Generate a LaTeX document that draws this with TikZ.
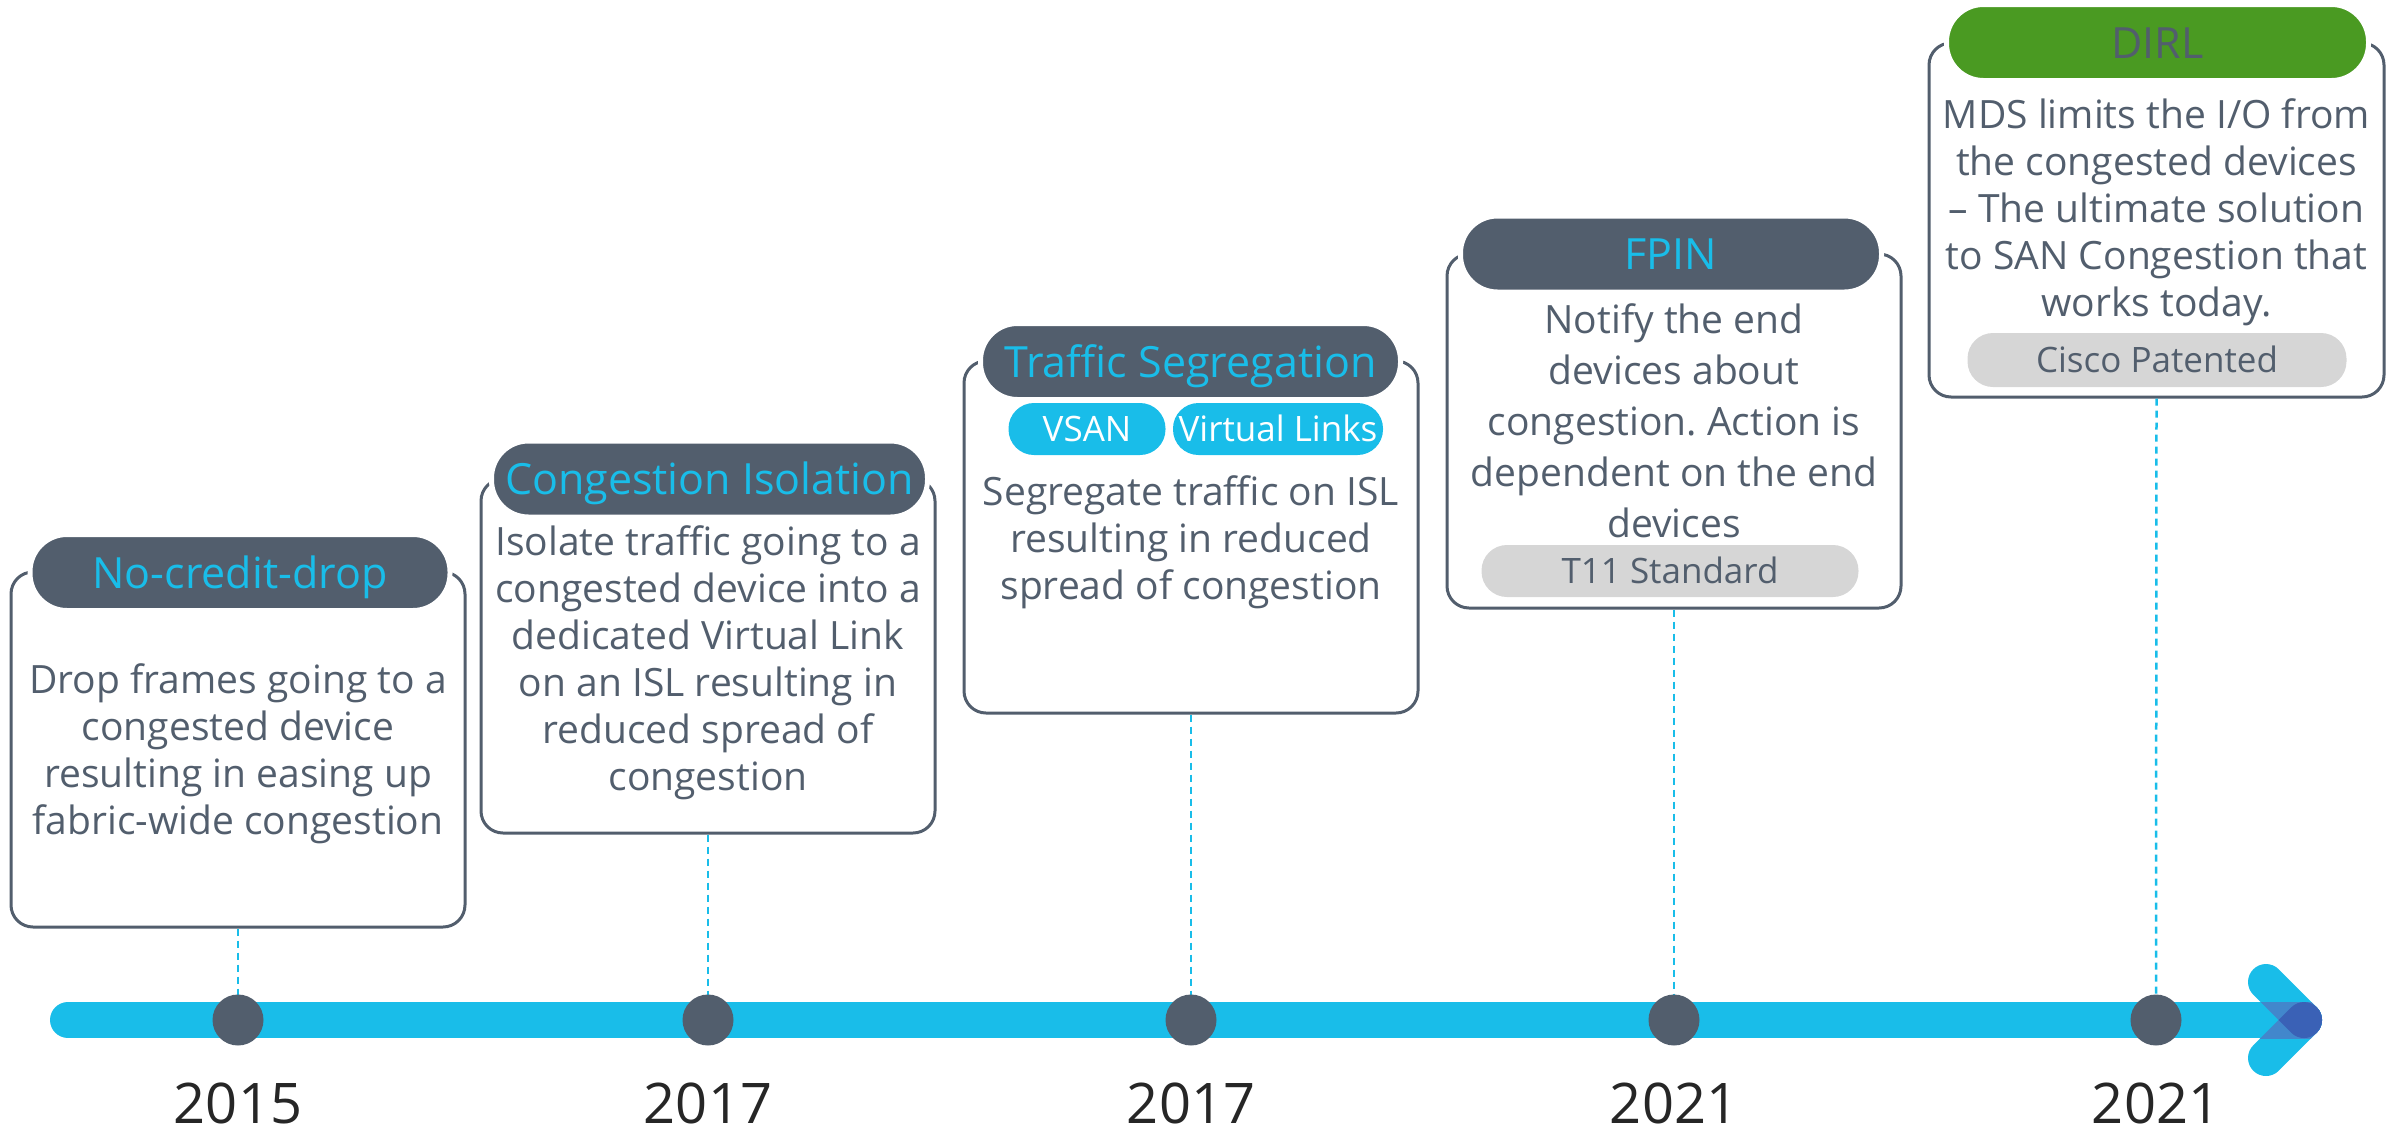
\documentclass[tikz,border=0pt]{standalone}
\usepackage{fontspec}
\setmainfont{Open Sans}
\frenchspacing
\definecolor{slate}{HTML}{525E6D}
\definecolor{cyanc}{HTML}{19BDE9}
\definecolor{tagc}{HTML}{D6D6D6}
\definecolor{greenc}{HTML}{4A9A22}
\definecolor{yearc}{HTML}{262626}
\definecolor{medc}{HTML}{4287CC}
\definecolor{darkc}{HTML}{3A61B6}
\newcommand{\mylines}[1]{\begin{tabular}[t]{@{}c@{}}#1\end{tabular}}
\begin{document}
\begin{tikzpicture}[x=1pt,y=-1pt,
  boxs/.style={draw=slate, line width=3pt, rounded corners=22pt, minimum width=454pt, inner sep=0pt},
  pill/.style={fill=slate, draw=white, line width=5pt, rounded corners=37pt, inner sep=0pt,
    minimum height=76pt, text=cyanc, font=\fontsize{43}{50}\selectfont, text height=31pt, text depth=0pt},
  subpill/.style={fill=cyanc, rounded corners=25.5pt, inner sep=0pt, minimum height=52pt,
    text=white, font=\fontsize{35}{42}\selectfont, text height=25pt, text depth=0pt},
  tagpill/.style={fill=tagc, rounded corners=25.5pt, inner sep=0pt, minimum height=52pt,
    text=slate, font=\fontsize{35}{42}\selectfont, text height=25pt, text depth=0pt},
  desc/.style={text=slate, inner sep=0pt, anchor=base, font=\fontsize{39}{47}\selectfont},
  dot/.style={circle, fill=slate, minimum size=51pt, inner sep=0pt},
  yearlbl/.style={text=yearc, anchor=base, inner sep=0pt, font=\fontsize{56}{60}\selectfont},
  conn/.style={draw=cyanc, line width=2.5pt, dash pattern=on 7pt off 5pt},
  barline/.style={draw=cyanc, line width=36pt, line cap=round, line join=round}
]
\useasboundingbox (0,0) rectangle (2394,1128);

% timeline bar and arrow head
\coordinate (barL) at (68,1020);
\coordinate (barR) at (2304,1020);
\coordinate (armU) at (2266,982);
\coordinate (armD) at (2266,1058);
\draw[barline] (barL) -- (barR);
\draw[barline] (armU) -- (barR);
\draw[barline] (armD) -- (barR);
\begin{scope}
  \clip (2200,1002) rectangle (2330,1038);
  \draw[barline, draw=medc] (armU) -- (barR);
  \draw[barline, draw=medc] (armD) -- (barR);
\end{scope}
\fill[darkc] (2278.5,1020) -- (2291.3,1007.3) arc[start angle=225, end angle=495, radius=18] -- cycle;

% boxes
\node[boxs, minimum height=355pt] (box1) at (238,749.5) {};
\node[boxs, minimum height=354pt] (box2) at (708,656) {};
\node[boxs, minimum height=352pt] (box3) at (1191,537) {};
\node[boxs, minimum height=354pt] (box4) at (1674,431) {};
\node[boxs, minimum height=354pt, minimum width=455pt] (box5) at (2156.5,220) {};

% titles
\node[pill, minimum width=420pt] (t1) at (240,572.5) {No-credit-drop};
\node[pill, minimum width=436pt] (t2) at (709.5,479) {Congestion Isolation};
\node[pill, minimum width=420pt] (t3) at (1190.5,361.5) {Traffic Segregation};
\node[pill, minimum width=421pt] (t4) at (1671,254) {FPIN};
\node[pill, minimum width=422pt, fill=greenc, text=slate] (t5) at (2157.5,42.5) {DIRL};

% sub pills and tags
\node[subpill, minimum width=157pt] (vsan) at (1087,429) {VSAN};
\node[subpill, minimum width=210pt] (vlinks) at (1278,429) {Virtual Links};
\node[tagpill, minimum width=377pt] (tag4) at (1670,571) {T11 Standard};
\node[tagpill, minimum width=379pt, minimum height=54pt] (tag5) at (2157,360) {Cisco Patented};

% descriptions
\node[desc] (d1) at (238,693) {\mylines{Drop frames going to a\\congested device\\resulting in easing up\\fabric-wide congestion}};
\node[desc] (d2) at (708,555) {\mylines{Isolate traffic going to a\\congested device into a\\dedicated Virtual Link\\on an ISL resulting in\\reduced spread of\\congestion}};
\node[desc] (d3) at (1191,505) {\mylines{Segregate traffic on ISL\\resulting in reduced\\spread of congestion}};
\node[desc, font=\fontsize{39}{51}\selectfont] (d4) at (1674,333) {\mylines{Notify the end\\devices about\\congestion. Action is\\dependent on the end\\devices}};
\node[desc] (d5) at (2156.5,128) {\mylines{MDS limits the I/O from\\the congested devices\\– The ultimate solution\\to SAN Congestion that\\works today.}};

% connectors
\draw[conn] (box1.south) -- (238,995);
\draw[conn] (box2.south) -- (708,995);
\draw[conn] (box3.south) -- (1191,995);
\draw[conn] (box4.south) -- (1674,995);
\draw[conn] (box5.south) -- (2156,995);

% dots
\node[dot] (dot1) at (238,1020) {};
\node[dot] (dot2) at (708,1020) {};
\node[dot] (dot3) at (1191,1020) {};
\node[dot] (dot4) at (1674,1020) {};
\node[dot] (dot5) at (2156,1020) {};

% years
\node[yearlbl] (y1) at (238,1123) {2015};
\node[yearlbl] (y2) at (708,1123) {2017};
\node[yearlbl] (y3) at (1191,1123) {2017};
\node[yearlbl] (y4) at (1674,1123) {2021};
\node[yearlbl] (y5) at (2156,1123) {2021};
\end{tikzpicture}
\end{document}
